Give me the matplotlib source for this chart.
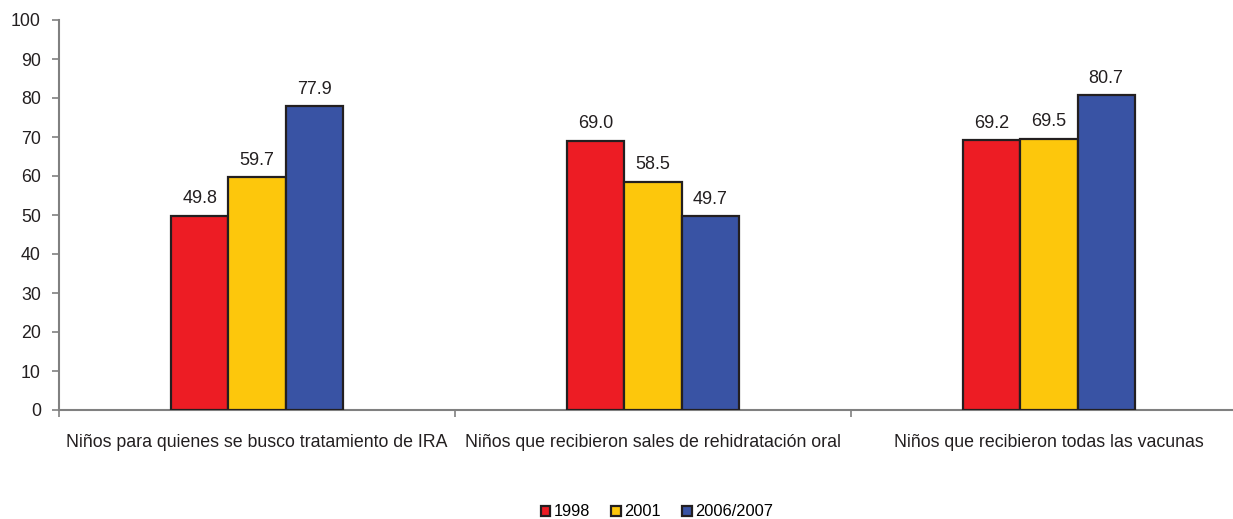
import numpy as np
import matplotlib
matplotlib.use('Agg')
import matplotlib.pyplot as plt
from matplotlib.patches import Patch

categories = ['Niños para quienes se busco tratamiento de IRA',
              'Niños que recibieron sales de rehidratación oral',
              'Niños que recibieron todas las vacunas']
years = ['1998', '2001', '2006/2007']
values = [
    [49.8, 69.0, 69.2],
    [59.7, 58.5, 69.5],
    [77.9, 49.7, 80.7],
]
colors = ['#ED1C24', '#FDC70C', '#3953A4']
y_ticks = list(range(0, 101, 10))

plt.rcParams['font.family'] = ['Liberation Sans', 'DejaVu Sans']

W, H = 1233, 519
fig = plt.figure(figsize=(W / 100, H / 100), dpi=100)
left, right = 59, 1247
top, bottom = 20, 410
ax = fig.add_axes([left / W, 1 - bottom / H, (right - left) / W, (bottom - top) / H])

x = np.arange(len(categories))
bw = 0.144
for i, (yr, vals) in enumerate(zip(years, values)):
    pos = x + (i - 1) * bw
    ax.bar(pos, vals, bw, color=colors[i], edgecolor='#231F20', linewidth=1.6, label=yr, zorder=3)
    for p, v in zip(pos, vals):
        ax.text(p, v + 2.2, f'{v:.1f}', ha='center', va='bottom', fontsize=13, color='#231F20')

ax.set_xlim(-0.5, 2.5)
ax.set_ylim(0, 100)
ax.set_yticks(y_ticks)
ax.tick_params(axis='y', labelsize=12.8, length=5, pad=8, color='#808080', labelcolor='#231F20', width=1.2)
ax.set_xticks(x)
ax.set_xticklabels(categories, fontsize=12.8, color='#231F20')
ax.tick_params(axis='x', which='major', length=0, pad=17)
ax.set_xticks([-0.5, 0.5, 1.5], minor=True)
ax.tick_params(axis='x', which='minor', length=5, color='#808080', width=1.2, direction='out')
for s in ['top', 'right']:
    ax.spines[s].set_visible(False)
for s in ['left', 'bottom']:
    ax.spines[s].set_color('#808080')
    ax.spines[s].set_linewidth(1.5)

handles = [Patch(facecolor=c, edgecolor='#231F20', linewidth=1.6, label=y) for c, y in zip(colors, years)]
fig.legend(handles=handles, loc='center', bbox_to_anchor=(657 / W, 1 - 512 / H), ncol=3, frameon=False,
           fontsize=11.8, handlelength=0.6, handleheight=0.6, handletextpad=0.2, columnspacing=1.3)

fig.savefig('out.png', dpi=100)
